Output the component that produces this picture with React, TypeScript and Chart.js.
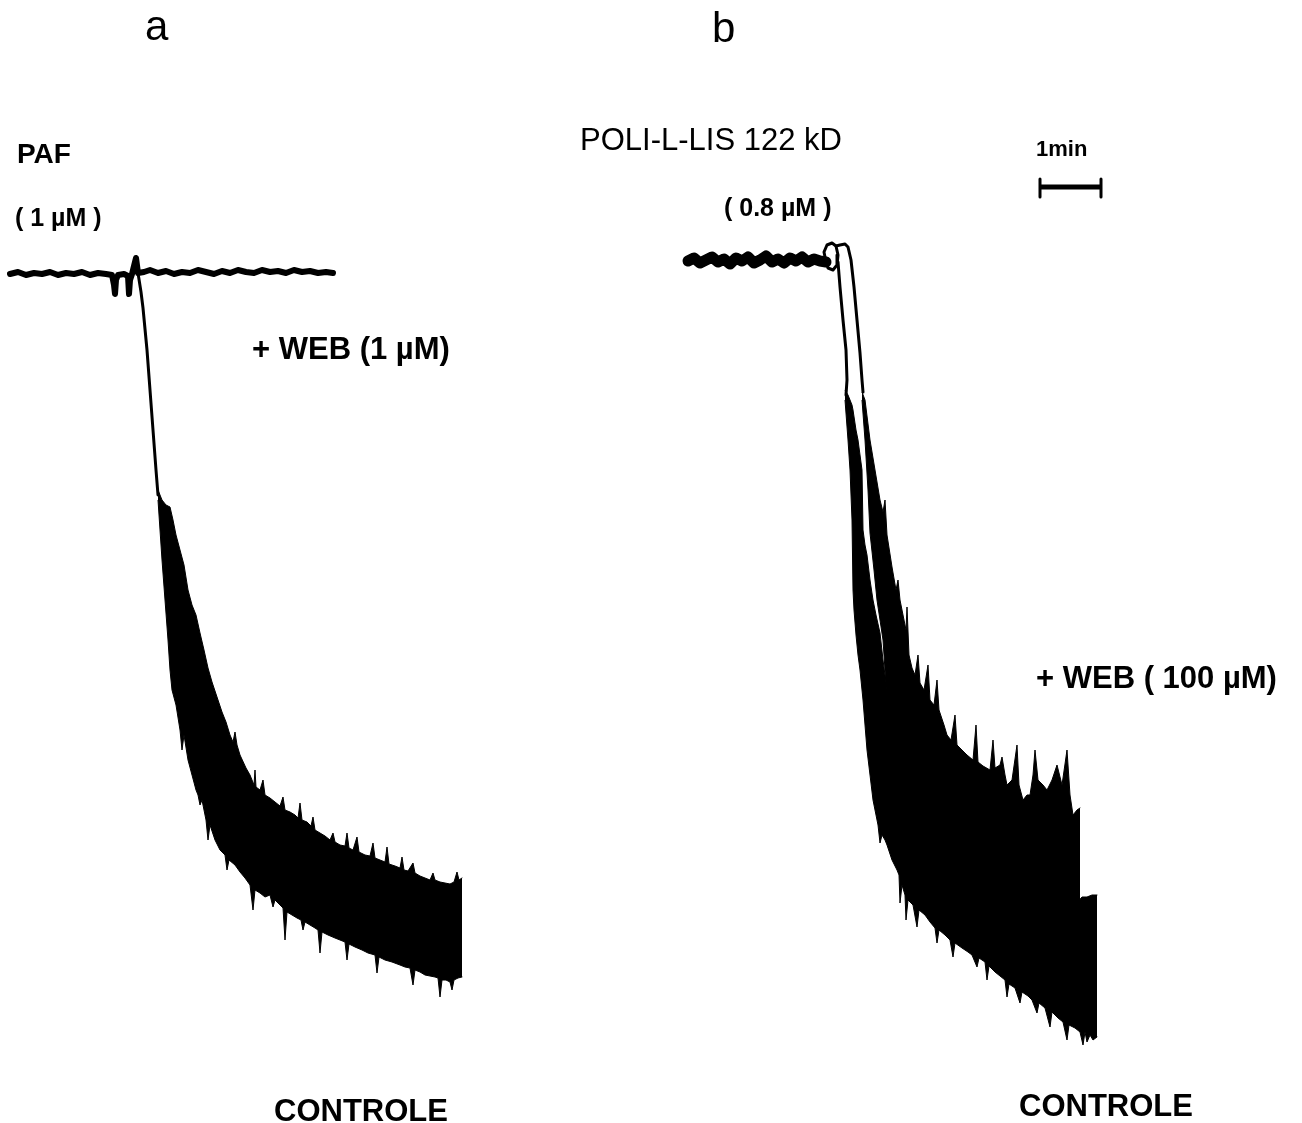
import { useEffect, useRef } from "react";
import { Chart, registerables } from "chart.js";

Chart.register(...registerables);

// ---------- Panel a (PAF 1 µM) : time in s from PAF addition, deflection in mm ----------
// baseline recording (+ WEB 1 µM trace and pre-addition control overlapped)
const aBaseTime = [-128, -120, -112, -104, -96, -88, -80, -72, -64, -56, -48, -40, -32, -26, -24, -23, -22, -20, -14, -10, -9, -8, -6, -4, -2, 0, 6, 12, 20, 28, 36, 44, 52, 60, 68, 76, 84, 92, 100, 108, 116, 124, 132, 140, 148, 156, 164, 172, 180, 188, 195];
const aBaseDefl = [0.4, 0.2, 0.5, 0.3, 0.4, 0.2, 0.5, 0.3, 0.4, 0.2, 0.5, 0.3, 0.4, 0.5, 1.5, 2.4, 1.0, 0.5, 0.4, 0.6, 2.4, 1.0, 0.4, -0.4, -1.2, 0.3, 0.2, 0.0, 0.3, 0.1, 0.4, 0.2, 0.3, 0.0, 0.2, 0.4, 0.1, 0.3, 0.0, 0.2, 0.3, 0.0, 0.2, 0.1, 0.3, 0.0, 0.2, 0.1, 0.3, 0.2, 0.3];

// control: initial fall
const aFallTime = [0, 3, 5, 9, 12, 15, 18, 20];
const aFallDefl = [0.3, 2.2, 3.8, 8.0, 12.0, 16.0, 20.0, 22.5];

// control: noisy band, upper edge
const aTopTime = [20, 24, 28, 32, 35, 38, 42, 46, 50, 54, 58, 62, 66, 70, 74, 80, 84, 88, 92, 95, 97, 99, 102, 108, 112, 116, 117, 118, 122, 125, 127, 132, 137, 142, 145, 147, 152, 157, 160, 162, 164, 169, 173, 175, 177, 182, 187, 192, 195, 197, 202, 207, 209, 211, 215, 219, 221, 227, 232, 235, 237, 242, 247, 249, 251, 257, 262, 264, 266, 270, 275, 277, 282, 287, 292, 295, 297, 302, 307, 312, 316, 319, 321, 324];
const aTopDefl = [22.0, 23.0, 23.5, 23.7, 25.0, 26.5, 28.0, 29.5, 32.0, 33.5, 34.5, 36.3, 38.0, 39.8, 41.2, 43.0, 44.2, 45.2, 46.5, 47.2, 46.2, 47.5, 48.5, 49.8, 50.5, 51.5, 50.0, 51.7, 52.0, 51.0, 52.5, 52.8, 53.2, 53.6, 52.7, 54.0, 54.2, 54.5, 54.8, 53.3, 55.0, 55.2, 55.6, 54.7, 56.0, 56.3, 56.6, 57.0, 56.3, 57.2, 57.5, 57.6, 56.3, 57.8, 58.0, 56.7, 58.2, 58.5, 58.6, 57.3, 58.8, 59.0, 59.2, 57.7, 59.4, 59.6, 59.8, 58.7, 60.0, 60.1, 59.3, 60.3, 60.6, 60.8, 61.0, 60.3, 61.0, 61.2, 61.3, 61.4, 61.2, 60.2, 61.0, 60.8];

// control: noisy band, lower edge
const aBottomTime = [20, 22, 24, 27, 30, 32, 34, 38, 42, 44, 46, 50, 54, 58, 60, 62, 64, 67, 68, 70, 72, 77, 82, 87, 89, 91, 97, 102, 107, 112, 115, 117, 122, 127, 132, 135, 137, 142, 145, 147, 149, 154, 159, 163, 165, 167, 172, 177, 180, 182, 184, 190, 197, 202, 207, 209, 211, 217, 224, 230, 237, 239, 241, 247, 254, 262, 267, 272, 275, 277, 282, 287, 292, 297, 300, 302, 304, 308, 312, 314, 316, 320, 324];
const aBottomDefl = [23.0, 26.0, 29.0, 33.0, 37.0, 40.0, 42.0, 43.5, 46.0, 48.0, 46.5, 49.0, 50.5, 52.0, 52.5, 53.5, 53.0, 54.5, 55.0, 57.0, 55.5, 57.0, 58.0, 58.5, 60.0, 59.0, 59.5, 60.2, 60.8, 61.5, 64.0, 62.0, 62.3, 62.7, 62.5, 63.7, 63.0, 63.5, 63.8, 67.0, 64.2, 64.5, 64.8, 65.0, 66.0, 65.2, 65.5, 65.8, 66.0, 68.3, 66.2, 66.5, 66.8, 67.0, 67.2, 69.0, 67.4, 67.7, 68.0, 68.3, 68.5, 70.3, 68.7, 69.0, 69.2, 69.5, 69.7, 69.8, 71.5, 70.0, 70.2, 70.5, 70.6, 70.7, 70.8, 72.7, 71.0, 71.0, 71.2, 72.0, 71.0, 70.8, 70.7];

// ---------- Panel b (poly-L-lysine 122 kD 0.8 µM) : time in s from addition ----------
const bBaseTime = [-138, -132, -126, -120, -114, -108, -102, -96, -90, -84, -78, -72, -66, -60, -54, -48, -42, -36, -30, -24, -18, -12, -6, 0];
const bBaseDefl = [-0.9, -1.2, -0.7, -1.0, -1.3, -0.8, -1.1, -0.6, -1.2, -0.9, -1.3, -0.7, -1.0, -1.4, -0.8, -1.1, -0.7, -1.2, -0.9, -1.3, -0.8, -1.1, -0.9, -0.8];

// small loop at the start of the response
const bLoopTime = [0, -2, 1, 6, 10, 12, 11, 7, 2, 0];
const bLoopDefl = [-0.8, -1.8, -2.5, -2.7, -2.4, -1.5, -0.5, 0.0, -0.2, -0.8];

// + WEB 100 µM trace : initial fall
const bWebFallTime = [10, 14, 19, 22, 25, 28, 31, 34, 36, 37];
const bWebFallDefl = [-2.4, -2.5, -2.6, -2.3, -1.0, 1.7, 5.0, 8.3, 11.0, 12.2];

// control trace : initial fall
const bCtlFallTime = [12, 14, 17, 20, 21, 20];
const bCtlFallDefl = [-0.8, 1.7, 5.0, 8.0, 11.0, 12.5];

// control trace : noisy band, upper edge
const bCtlTopTime = [19, 22, 24, 26, 27, 30, 32, 34, 36, 37, 39, 41, 44, 47, 50, 54, 57, 59, 61, 66, 71, 74, 79, 85, 91, 99, 111, 119, 127, 139, 151, 161, 171, 181, 194, 204, 211, 219, 224, 232, 241, 249, 256, 261, 266, 271];
const bCtlTopDefl = [12.0, 12.5, 13.0, 13.5, 14.0, 16.0, 17.0, 18.5, 20.0, 26.0, 27.5, 28.5, 31.0, 33.0, 34.5, 36.3, 39.0, 40.5, 42.0, 44.5, 46.0, 47.0, 48.2, 49.5, 50.8, 52.5, 54.2, 55.2, 56.2, 57.5, 58.8, 59.8, 60.8, 61.5, 62.5, 63.0, 63.5, 63.8, 64.0, 64.2, 64.2, 63.5, 62.7, 62.7, 62.5, 62.5];

// control trace : noisy band, lower edge
const bCtlBottomTime = [19, 22, 24, 26, 27, 28, 30, 32, 34, 37, 39, 41, 44, 47, 50, 52, 54, 56, 59, 61, 66, 71, 73, 74, 76, 79, 80, 82, 87, 91, 93, 99, 104, 109, 111, 113, 119, 124, 127, 129, 136, 142, 146, 151, 153, 159, 161, 163, 169, 174, 179, 181, 183, 189, 194, 196, 202, 206, 211, 213, 219, 224, 226, 232, 237, 241, 243, 249, 254, 257, 259, 261, 264, 267, 271];
const bCtlBottomDefl = [13.0, 17.0, 20.0, 25.0, 32.0, 34.0, 36.5, 38.5, 40.0, 43.0, 45.5, 48.0, 50.5, 53.0, 54.5, 55.5, 57.3, 56.5, 57.0, 57.5, 59.0, 60.0, 60.5, 63.3, 61.5, 62.5, 65.0, 63.0, 63.5, 65.7, 64.0, 64.5, 65.2, 65.8, 67.3, 66.0, 66.5, 67.0, 68.7, 67.3, 67.8, 68.2, 68.5, 69.7, 68.8, 69.2, 71.0, 69.6, 70.2, 70.6, 71.0, 72.7, 71.4, 71.8, 73.3, 72.2, 72.6, 73.0, 74.3, 73.3, 73.8, 75.7, 74.2, 74.8, 75.2, 77.0, 75.5, 75.8, 76.2, 77.5, 76.2, 77.2, 76.5, 77.0, 76.7];

// + WEB 100 µM trace : noisy band, upper edge
const bWebTopTime = [36, 39, 44, 49, 54, 57, 59, 61, 66, 70, 72, 74, 77, 80, 81, 83, 86, 89, 92, 94, 98, 102, 104, 108, 111, 113, 118, 121, 125, 129, 131, 136, 141, 147, 150, 152, 157, 164, 167, 169, 174, 176, 179, 181, 186, 191, 193, 197, 201, 204, 207, 209, 212, 217, 221, 226, 231, 236, 241, 244, 247, 251, 254];
const bWebTopDefl = [12.2, 13.0, 17.0, 20.0, 23.0, 24.2, 23.0, 26.5, 29.7, 32.0, 31.0, 33.0, 34.5, 36.0, 33.7, 38.5, 39.8, 40.5, 38.5, 41.3, 42.0, 39.5, 43.0, 43.5, 41.0, 44.0, 45.5, 46.5, 47.0, 44.5, 47.5, 48.0, 48.5, 49.0, 45.5, 49.2, 49.6, 50.0, 47.0, 49.8, 49.5, 48.7, 50.5, 51.5, 51.0, 47.5, 51.5, 53.0, 52.5, 52.5, 50.5, 48.0, 51.0, 51.5, 52.0, 51.0, 49.5, 51.5, 48.0, 52.5, 54.5, 54.0, 53.8];

// + WEB 100 µM trace : noisy band, lower edge
const bWebBottomTime = [36, 39, 42, 44, 48, 51, 57, 59, 61, 66, 72, 77, 84, 92, 101, 114, 129, 144, 159, 174, 194, 214, 234, 249, 254];
const bWebBottomDefl = [13.0, 17.0, 22.0, 26.3, 30.0, 33.0, 37.0, 40.0, 43.0, 47.0, 50.0, 52.0, 54.0, 56.0, 57.5, 59.5, 61.5, 63.0, 64.5, 66.0, 67.5, 68.5, 69.0, 68.8, 68.0];

// 1 min time bar (panel b time axis)
const scaleBarTime = [214, 275];
const scaleBarDefl = -8.3;
const scaleBarTickDefl = [-9.1, -7.3];

// text annotations (axis, time, deflection)
const LABELS = [
  { text: "a", axis: "xa", t: 7, v: -23.0, font: "42px 'Liberation Sans'" },
  { text: "PAF", axis: "xa", t: -121, v: -10.7, font: "bold 28px 'Liberation Sans'" },
  { text: "( 1 µM )", axis: "xa", t: -123, v: -4.4, font: "bold 25px 'Liberation Sans'" },
  { text: "+ WEB (1 µM)", axis: "xa", t: 114, v: 8.9, font: "bold 31px 'Liberation Sans'" },
  { text: "CONTROLE", axis: "xa", t: 136, v: 85.1, font: "bold 31px 'Liberation Sans'" },
  { text: "b", axis: "xb", t: -114, v: -22.8, font: "42px 'Liberation Sans'" },
  { text: "POLI-L-LIS 122 kD", axis: "xb", t: -246, v: -12.0, font: "31px 'Liberation Sans'" },
  { text: "( 0.8 µM )", axis: "xb", t: -102, v: -5.4, font: "bold 25px 'Liberation Sans'" },
  { text: "1min", axis: "xb", t: 210, v: -11.4, font: "bold 22px 'Liberation Sans'" },
  { text: "+ WEB ( 100 µM)", axis: "xb", t: 210, v: 41.8, font: "bold 31px 'Liberation Sans'" },
  { text: "CONTROLE", axis: "xb", t: 193, v: 84.6, font: "bold 31px 'Liberation Sans'" },
];

const zip = (xs: number[], ys: number[]) => xs.map((x, i) => ({ x, y: ys[i] }));

const labelPlugin = {
  id: "figureLabels",
  afterDatasetsDraw(chart: any) {
    const ctx = chart.ctx;
    const yScale = chart.scales.y;
    ctx.save();
    ctx.fillStyle = "#000";
    ctx.textAlign = "left";
    ctx.textBaseline = "alphabetic";
    for (const l of LABELS) {
      const px = chart.scales[l.axis].getPixelForValue(l.t);
      const py = yScale.getPixelForValue(l.v);
      ctx.font = l.font;
      ctx.fillText(l.text, px, py);
    }
    ctx.restore();
  },
};

export default function App() {
  const ref = useRef<HTMLCanvasElement | null>(null);

  useEffect(() => {
    if (!ref.current) return;
    const black = "#000000";
    const line = (data: any[], axis: string, width: number, extra: any = {}) => ({
      data,
      xAxisID: axis,
      yAxisID: "y",
      borderColor: black,
      backgroundColor: black,
      borderWidth: width,
      pointRadius: 0,
      fill: false,
      tension: 0,
      borderJoinStyle: "round",
      borderCapStyle: "round",
      ...extra,
    });

    const datasets: any[] = [
      // panel a
      line(zip(aTopTime, aTopDefl), "xa", 1),
      line(zip(aBottomTime, aBottomDefl), "xa", 1, { fill: "-1" }),
      line(zip(aBaseTime, aBaseDefl), "xa", 6),
      line(zip(aFallTime, aFallDefl), "xa", 3),
      // panel b
      line(zip(bCtlTopTime, bCtlTopDefl), "xb", 1),
      line(zip(bCtlBottomTime, bCtlBottomDefl), "xb", 1, { fill: "-1" }),
      line(zip(bWebTopTime, bWebTopDefl), "xb", 1),
      line(zip(bWebBottomTime, bWebBottomDefl), "xb", 1, { fill: "-1" }),
      line(zip(bBaseTime, bBaseDefl), "xb", 11),
      line(zip(bLoopTime, bLoopDefl), "xb", 3),
      line(zip(bWebFallTime, bWebFallDefl), "xb", 3),
      line(zip(bCtlFallTime, bCtlFallDefl), "xb", 3),
      // time bar
      line(zip(scaleBarTime, [scaleBarDefl, scaleBarDefl]), "xb", 5, { borderCapStyle: "butt" }),
      line(zip([scaleBarTime[0], scaleBarTime[0]], scaleBarTickDefl), "xb", 3, { borderCapStyle: "butt" }),
      line(zip([scaleBarTime[1], scaleBarTime[1]], scaleBarTickDefl), "xb", 3, { borderCapStyle: "butt" }),
    ];

    const chart = new Chart(ref.current, {
      type: "line",
      data: { datasets },
      options: {
        animation: false,
        responsive: false,
        devicePixelRatio: 1,
        layout: { padding: 0 },
        plugins: {
          legend: { display: false },
          tooltip: { enabled: false },
          title: { display: false },
        },
        elements: { point: { radius: 0 } },
        scales: {
          xa: { type: "linear", display: false, min: -138, max: 1164 },
          xb: { type: "linear", display: false, min: -826, max: 476 },
          y: { type: "linear", display: false, reverse: true, min: -27, max: 85.3 },
        },
      } as any,
      plugins: [labelPlugin],
    });
    return () => chart.destroy();
  }, []);

  return (
    <div style={{ position: "absolute", left: 0, top: 0, width: 1302, height: 1123, background: "#fff" }}>
      <canvas ref={ref} width={1302} height={1123} style={{ display: "block" }} />
    </div>
  );
}
